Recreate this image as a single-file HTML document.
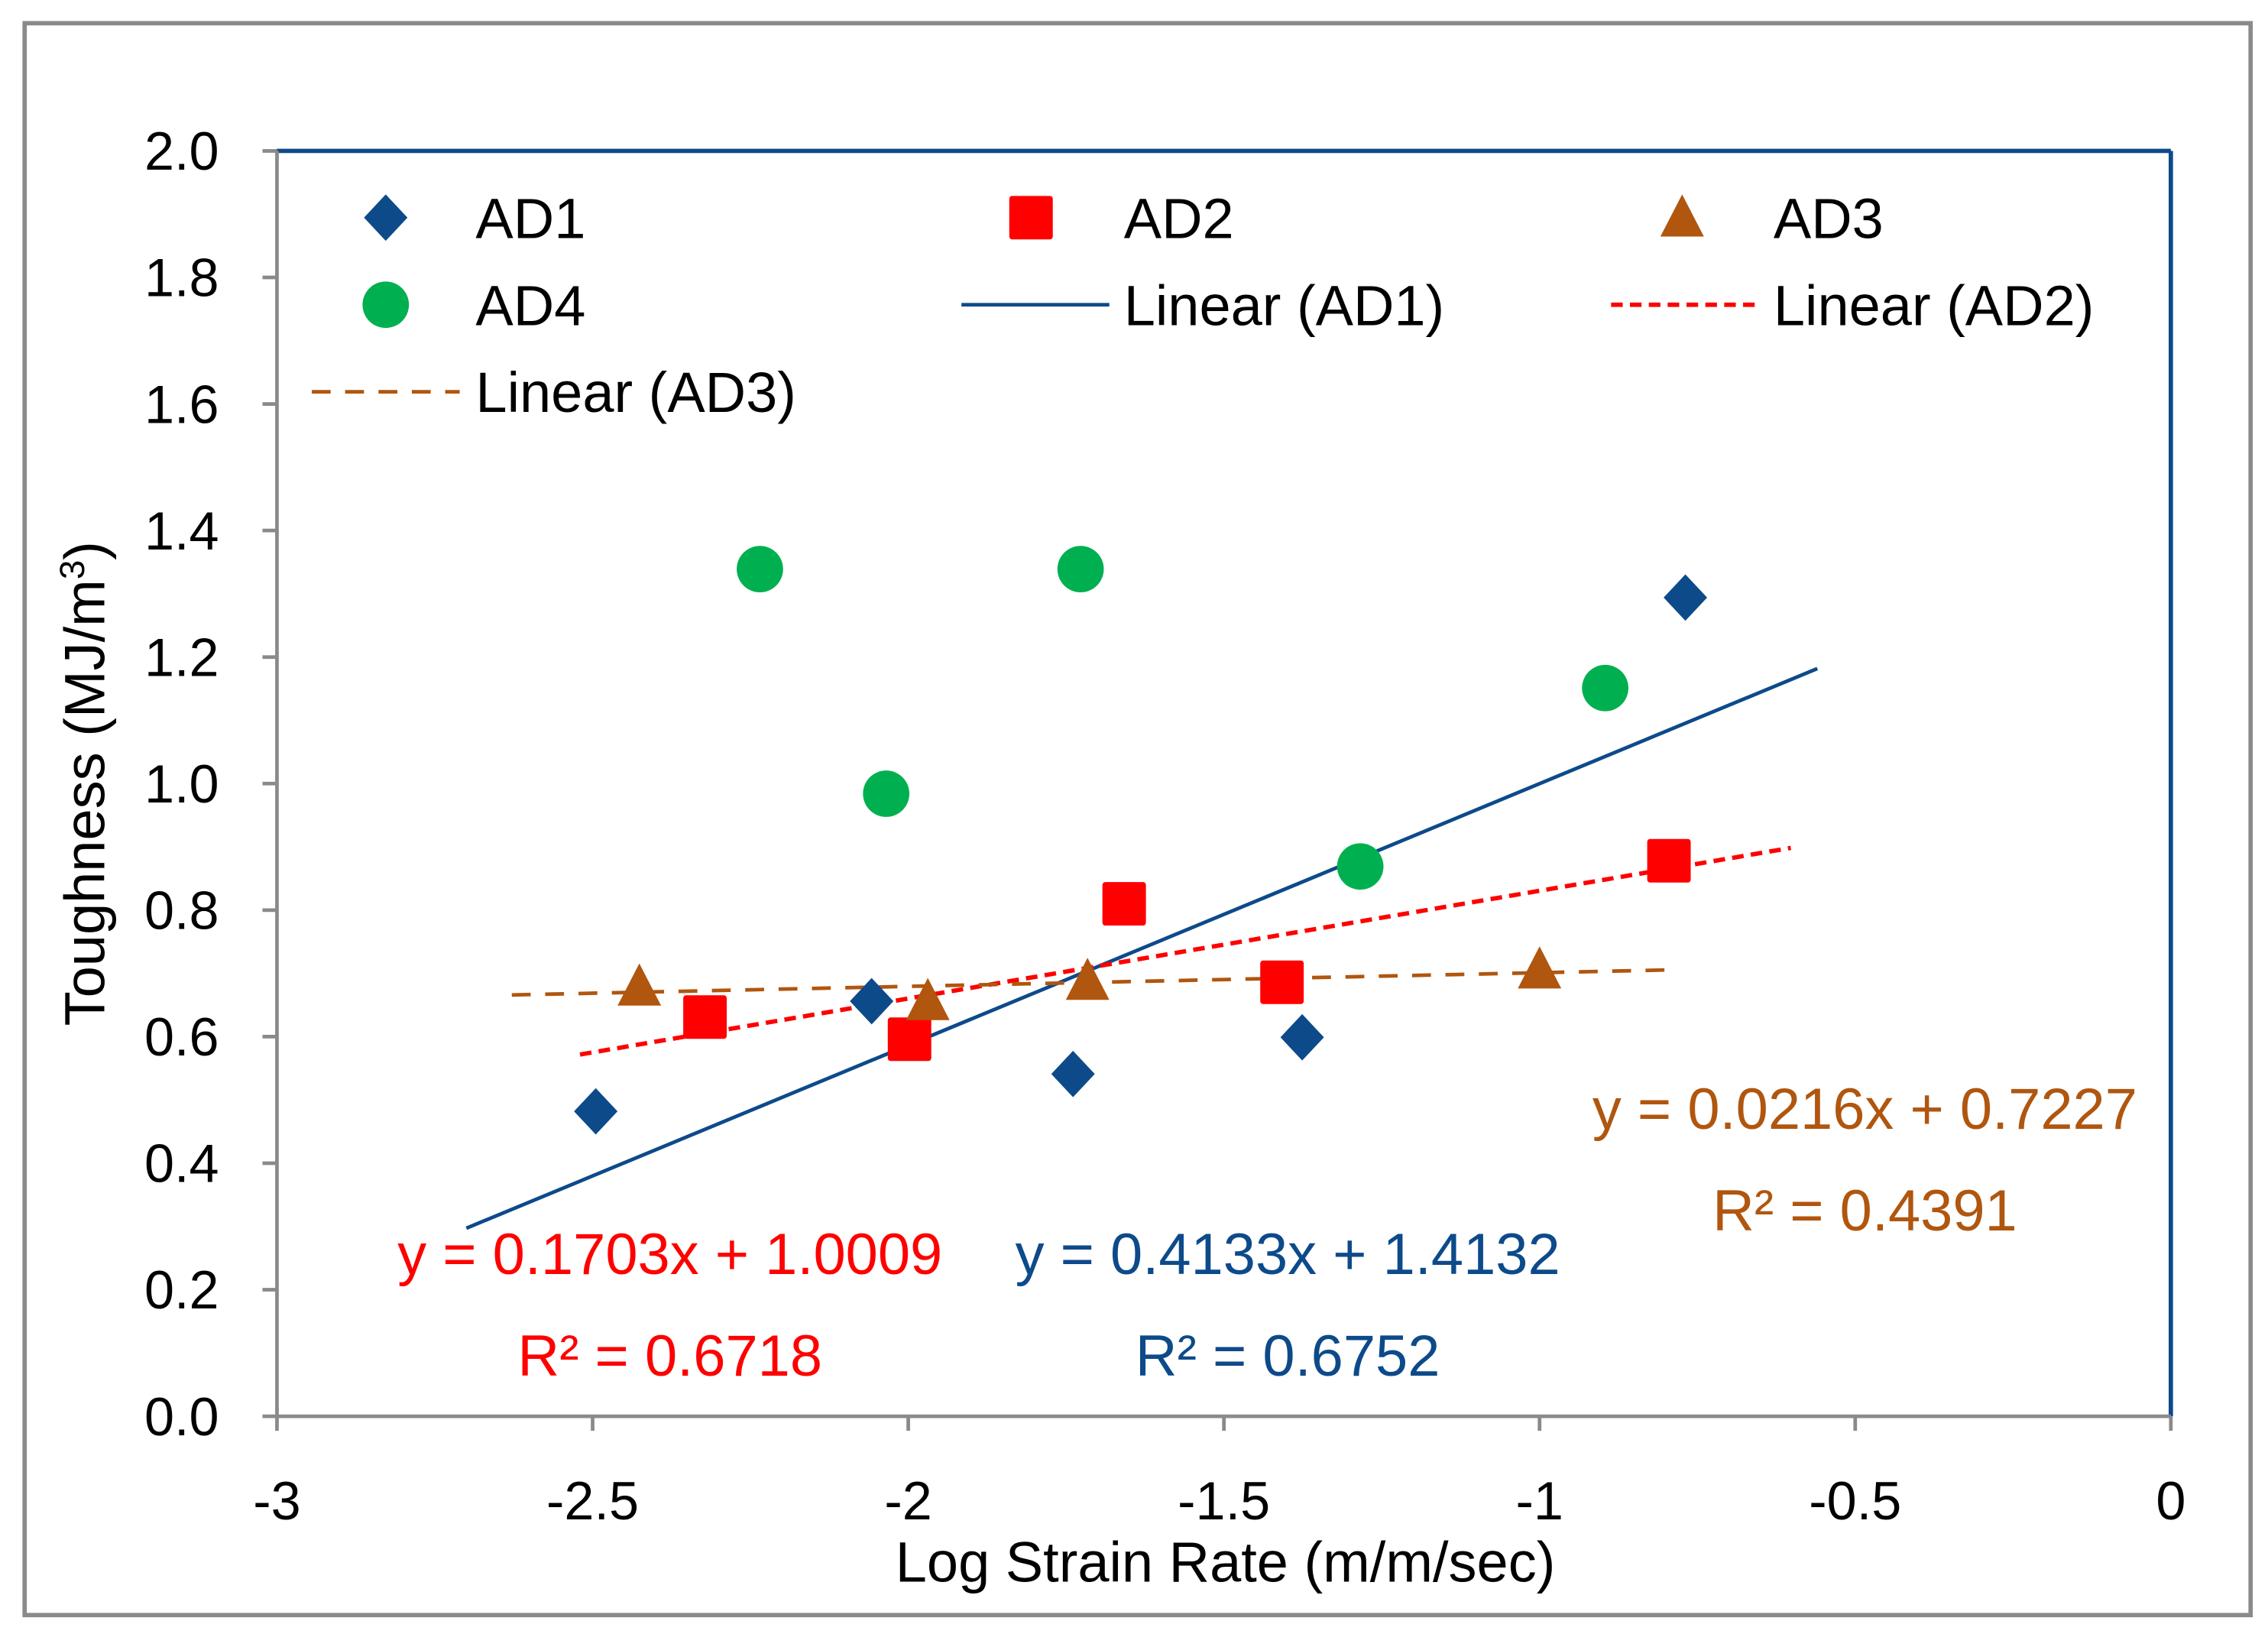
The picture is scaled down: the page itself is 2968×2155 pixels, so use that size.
<!DOCTYPE html>
<html><head><meta charset="utf-8"><style>
html,body{margin:0;padding:0;background:#fff;}
svg{display:block;}
text{font-family:"Liberation Sans",Arial,sans-serif;}
</style></head>
<body>
<svg id="chart" width="2968" height="2155" viewBox="0 0 1564 1135" preserveAspectRatio="none" xmlns="http://www.w3.org/2000/svg">
<rect x="0" y="0" width="1564" height="1135" fill="#fff"/>
<rect x="17" y="16" width="1535" height="1097" fill="none" stroke="#8a8a8a" stroke-width="3"/>
<g id="grid"></g>
<g id="trend"></g>
<g id="marks"></g>
<g id="legend"></g>
<text x="845" y="1090" font-size="39" text-anchor="middle" fill="#000">Log Strain Rate (m/m/sec)</text>
<text transform="translate(72,540) rotate(-90)" font-size="39" text-anchor="middle" fill="#000">Toughness (MJ/m<tspan font-size="24" dy="-14">3</tspan><tspan dy="14">)</tspan></text>
<text x="462" y="878" font-size="40" text-anchor="middle" fill="#ff0000">y = 0.1703x + 1.0009</text>
<text x="462" y="948" font-size="40" text-anchor="middle" fill="#ff0000">R² = 0.6718</text>
<text x="888" y="878" font-size="40" text-anchor="middle" fill="#0d4a8a">y = 0.4133x + 1.4132</text>
<text x="888" y="948" font-size="40" text-anchor="middle" fill="#0d4a8a">R² = 0.6752</text>
<text x="1286" y="778" font-size="40" text-anchor="middle" fill="#b0560f">y = 0.0216x + 0.7227</text>
<text x="1286" y="848" font-size="40" text-anchor="middle" fill="#b0560f">R² = 0.4391</text>
</svg>
<script>
const xTicks = [-3, -2.5, -2, -1.5, -1, -0.5, 0];
const xTickLabels = ["-3", "-2.5", "-2", "-1.5", "-1", "-0.5", "0"];
const yTicks = [0, 0.2, 0.4, 0.6, 0.8, 1.0, 1.2, 1.4, 1.6, 1.8, 2.0];
const yTickLabels = ["0.0","0.2","0.4","0.6","0.8","1.0","1.2","1.4","1.6","1.8","2.0"];
const ad1X = [-2.495, -2.058, -1.739, -1.376, -0.769];
const ad1Y = [0.482, 0.656, 0.541, 0.599, 1.294];
const ad2X = [-2.322, -1.998, -1.658, -1.408, -0.795];
const ad2Y = [0.631, 0.596, 0.810, 0.686, 0.878];
const ad3X = [-2.426, -1.969, -1.716, -1.0];
const ad3Y = [0.679, 0.656, 0.688, 0.706];
const ad4X = [-2.235, -2.035, -1.727, -0.896, -1.284];
const ad4Y = [1.339, 0.984, 1.339, 1.151, 0.869];
const trendSlope = [0.4133, 0.1703, 0.0216];
const trendIntercept = [1.4132, 1.0009, 0.7227];
const trendXStart = [-2.7, -2.52, -2.628];
const trendXEnd = [-0.56, -0.602, -0.797];

const NS = "http://www.w3.org/2000/svg";
const L = 191, R = 1497, T = 104, B = 976;
const X0 = -3, X1 = 0, Y0 = 0, Y1 = 2;
function sx(v){ return L + (v - X0) / (X1 - X0) * (R - L); }
function sy(v){ return B - (v - Y0) / (Y1 - Y0) * (B - T); }
function mk(tag, attrs, parent){ const e = document.createElementNS(NS, tag); for (const k in attrs) e.setAttribute(k, attrs[k]); parent.appendChild(e); return e; }

const BLUE = "#0d4a8a", RED = "#ff0000", BROWN = "#b0560f", GREEN = "#00b050";
const grid = document.getElementById("grid");
let e;
e = mk("line", {x1:L, y1:T, x2:R, y2:T, stroke:BLUE, "stroke-width":3}, grid);


e = mk("line", {x1:R, y1:T, x2:R, y2:B, stroke:BLUE, "stroke-width":3}, grid);


e = mk("line", {x1:L, y1:T, x2:L, y2:B, stroke:"#8a8a8a", "stroke-width":2.5}, grid);


e = mk("line", {x1:L, y1:B, x2:R, y2:B, stroke:"#8a8a8a", "stroke-width":2.5}, grid);



yTicks.forEach((v, i) => {
  const t = mk("line", {x1:L-10, y1:sy(v), x2:L, y2:sy(v), stroke:"#8a8a8a", "stroke-width":2.5}, grid);
  
  
  const tx = mk("text", {x:L-40, y:sy(v)+13, "font-size":37, "text-anchor":"end", fill:"#000"}, grid);
  tx.textContent = yTickLabels[i];
  
  
});
xTicks.forEach((v, i) => {
  const t = mk("line", {x1:sx(v), y1:B, x2:sx(v), y2:B+10, stroke:"#8a8a8a", "stroke-width":2.5}, grid);
  
  
  const tx = mk("text", {x:sx(v), y:B+71, "font-size":37, "text-anchor":"middle", fill:"#000"}, grid);
  tx.textContent = xTickLabels[i];
  
  
});

const trend = document.getElementById("trend");
const trendStyle = [
  {stroke:BLUE, dash:"none", w:2.5, name:"trendline-ad1"},
  {stroke:RED, dash:"8 5", w:3, name:"trendline-ad2"},
  {stroke:BROWN, dash:"13 10", w:2.5, name:"trendline-ad3"}
];
trendSlope.forEach((m, i) => {
  const a = trendXStart[i], b = trendXEnd[i];
  const ln = mk("line", {x1:sx(a), y1:sy(m*a+trendIntercept[i]), x2:sx(b), y2:sy(m*b+trendIntercept[i]), stroke:trendStyle[i].stroke, "stroke-width":trendStyle[i].w, "stroke-dasharray":trendStyle[i].dash}, trend);
  
  
});

function diamond(cx, cy, p){ return mk("polygon", {points:`${cx},${cy-16} ${cx+15},${cy} ${cx},${cy+16} ${cx-15},${cy}`, fill:BLUE}, p); }
function square(cx, cy, p){ return mk("rect", {x:cx-15, y:cy-15, width:30, height:30, rx:2, fill:RED}, p); }
function tri(cx, cy, p){ return mk("polygon", {points:`${cx},${cy-16} ${cx+15},${cy+13} ${cx-15},${cy+13}`, fill:BROWN}, p); }
function circ(cx, cy, p){ return mk("ellipse", {cx:cx, cy:cy, rx:16, ry:16, fill:GREEN}, p); }

const marks = document.getElementById("marks");
ad1X.forEach((x, i) => { const m = diamond(sx(x), sy(ad1Y[i]), marks);
  
   });
ad2X.forEach((x, i) => { const m = square(sx(x), sy(ad2Y[i]), marks);
  
   });
ad3X.forEach((x, i) => { const m = tri(sx(x), sy(ad3Y[i]), marks);
  
   });
ad4X.forEach((x, i) => { const m = circ(sx(x), sy(ad4Y[i]), marks);
  
   });

const lg = document.getElementById("legend");
function ltext(x, y, s){ const t = mk("text", {x:x, y:y+14, "font-size":39, fill:"#000"}, lg); t.textContent = s;
  
   return t; }
let s;
s = diamond(266, 150, lg);


ltext(328, 150, "AD1");
s = square(711, 150, lg);


ltext(775, 150, "AD2");
s = tri(1160, 150, lg);


ltext(1223, 150, "AD3");
s = circ(266, 210, lg);


ltext(328, 210, "AD4");
s = mk("line", {x1:663, y1:210, x2:765, y2:210, stroke:BLUE, "stroke-width":2.5}, lg);


ltext(775, 210, "Linear (AD1)");
s = mk("line", {x1:1111, y1:210, x2:1215, y2:210, stroke:RED, "stroke-width":3, "stroke-dasharray":"8 5"}, lg);


ltext(1223, 210, "Linear (AD2)");
s = mk("line", {x1:215, y1:270, x2:317, y2:270, stroke:BROWN, "stroke-width":2.5, "stroke-dasharray":"13 10"}, lg);


ltext(328, 270, "Linear (AD3)");
</script>
</body></html>
